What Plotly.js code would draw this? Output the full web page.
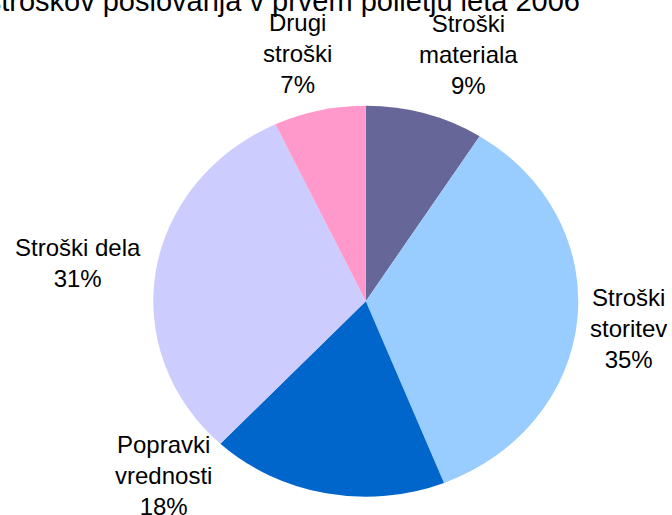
<!DOCTYPE html>
<html>
<head>
<meta charset="utf-8">
<script src="https://cdn.plot.ly/plotly-3.0.1.min.js"></script>
<style>
  html, body { margin: 0; padding: 0; background: #ffffff; }
  #chart { width: 672px; height: 515px; }
</style>
</head>
<body>
<div id="chart"></div>
<script>
const categories = ['Stroški materiala', 'Stroški storitev', 'Popravki vrednosti', 'Stroški dela', 'Drugi stroški'];
const labelLines = ['Stroški<br>materiala', 'Stroški<br>storitev', 'Popravki<br>vrednosti', 'Stroški dela', 'Drugi<br>stroški'];
const shares = [9, 35, 18, 31, 7];
const sliceColors = ['#666699', '#99CCFF', '#0066CC', '#CCCCFF', '#FF99CC'];
const titleText = 'Struktura stroškov poslovanja v prvem polletju leta 2006';

const W = 672, H = 515;
// label centres (pixels)
const labelPos = [[468, 55], [628, 328], [163, 475], [78, 263], [297, 53]];

const annotations = categories.map((c, i) => ({
  xref: 'paper', yref: 'paper',
  x: labelPos[i][0] / W, y: 1 - labelPos[i][1] / H,
  xanchor: 'center', yanchor: 'middle',
  text: labelLines[i] + '<br>' + shares[i] + '%',
  showarrow: false, align: 'center',
  font: { family: 'Liberation Sans, Arial, sans-serif', size: 24, color: '#000000' }
}));
annotations.push({
  xref: 'paper', yref: 'paper',
  x: 582 / W, y: 1 - 1 / H,
  xanchor: 'right', yanchor: 'middle',
  text: titleText, showarrow: false,
  font: { family: 'Liberation Sans, Arial, sans-serif', size: 29, color: '#000000' }
});

const data = [{
  type: 'pie',
  labels: categories,
  values: shares,
  sort: false,
  direction: 'clockwise',
  rotation: 0,
  textinfo: 'none',
  hoverinfo: 'label+percent',
  marker: { colors: sliceColors, line: { width: 0 } },
  domain: { x: [170.3 / W, 561.3 / W], y: [1 - 496.7 / H, 1 - 105.7 / H] },
  showlegend: false
}];

const layout = {
  width: W, height: H,
  margin: { l: 0, r: 0, t: 0, b: 0 },
  paper_bgcolor: '#ffffff',
  plot_bgcolor: '#ffffff',
  showlegend: false,
  annotations: annotations
};

Plotly.newPlot('chart', data, layout, { displayModeBar: false, staticPlot: true }).then(gd => {
  const cd0 = gd.calcdata[0][0];
  const cx = cd0.cx, cy = cd0.cy;
  const sx = 212.5 / 195.5;
  gd.querySelectorAll('.pielayer path.surface').forEach(p => {
    p.setAttribute('transform', 'matrix(' + sx + ',0,0,1,' + (cx * (1 - sx)) + ',0)');
  });
});
</script>
</body>
</html>
